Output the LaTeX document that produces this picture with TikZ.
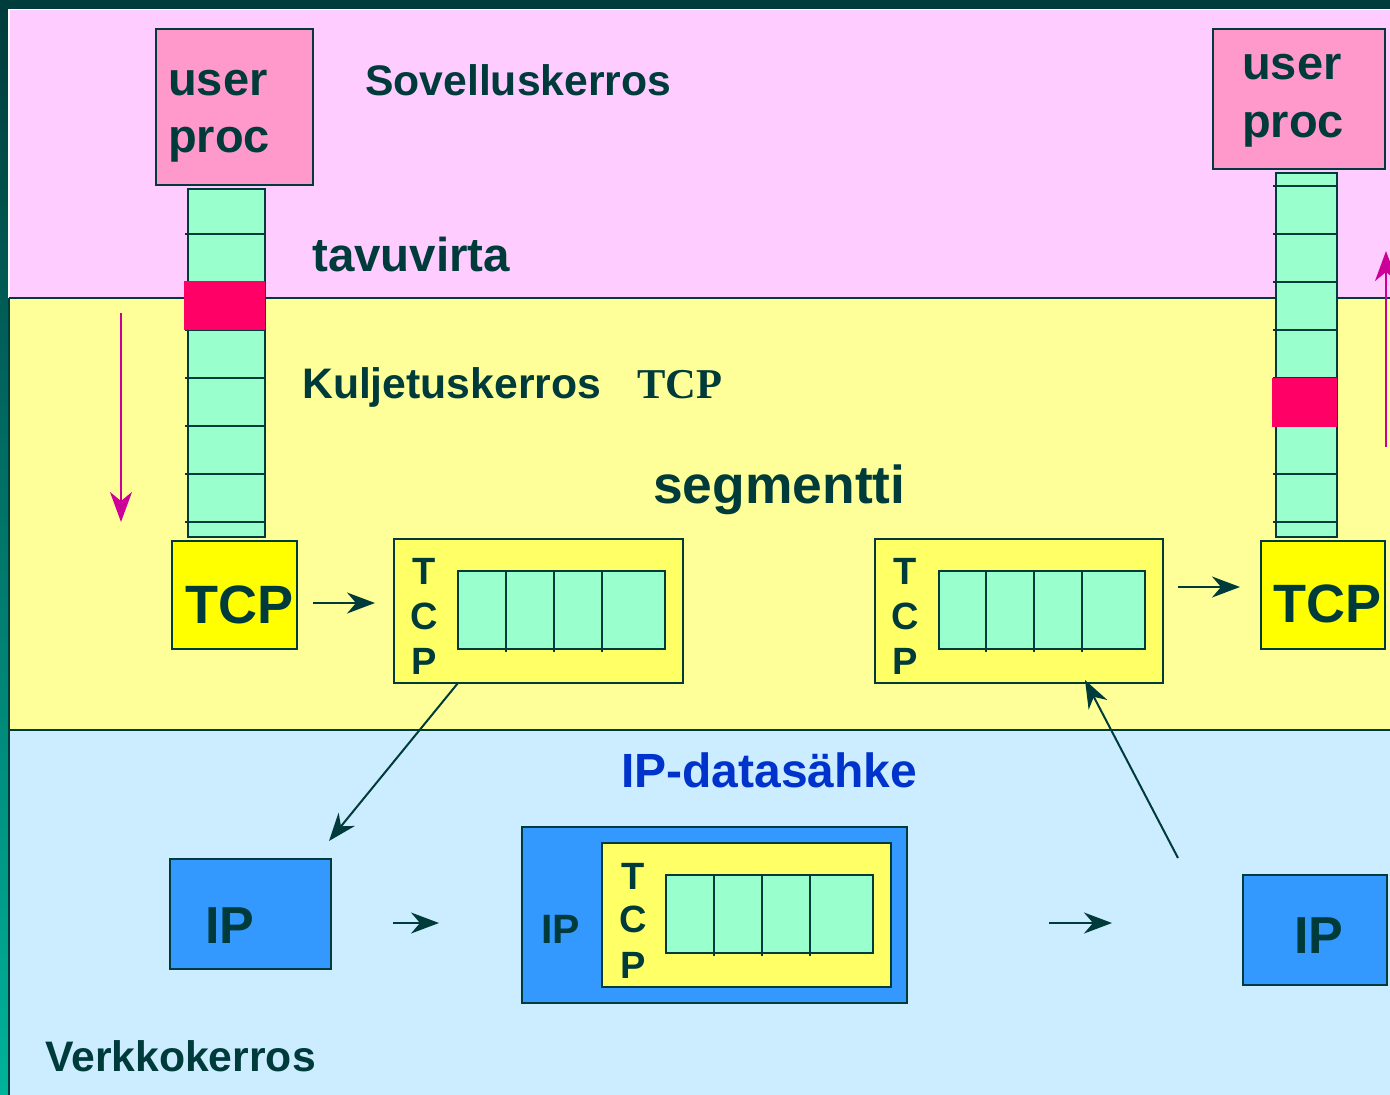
\documentclass[tikz,border=0pt]{standalone}
\usepackage{fontspec}
\setmainfont{Liberation Sans}
\newfontfamily\serifbf{Liberation Serif}
\usetikzlibrary{arrows.meta}
\definecolor{ink}{HTML}{003B3B}
\definecolor{bgpink}{HTML}{FFCCFF}
\definecolor{bgyellow}{HTML}{FFFF99}
\definecolor{bgblue}{HTML}{CCECFF}
\definecolor{pinkbox}{HTML}{FF99CC}
\definecolor{mint}{HTML}{99FFCC}
\definecolor{hot}{HTML}{FF0066}
\definecolor{tcpyellow}{HTML}{FFFF00}
\definecolor{segyellow}{HTML}{FFFF66}
\definecolor{ipblue}{HTML}{3399FF}
\definecolor{mag}{HTML}{CC0099}
\definecolor{dgblue}{HTML}{0033CC}
\definecolor{stripTop}{HTML}{003C3C}
\definecolor{stripBot}{HTML}{00B39B}
\newcommand\fsz[1]{\fontsize{#1}{#1}\selectfont}
\begin{document}
\begin{tikzpicture}[x=1pt,y=-1pt,
  box/.style={draw=ink, line width=1.5pt, rectangle, inner sep=0pt, anchor=north west},
  lbl/.style={inner sep=0pt, anchor=base west, text=ink, font=\bfseries\fsz{42.7}},
  letter/.style={inner sep=0pt, anchor=base, text=ink, font=\bfseries\fsz{38}},
  celline/.style={draw=ink, line width=1.5pt},
  darr/.style={draw=ink, line width=2pt, -{Stealth[length=28pt,width=21pt,inset=9pt]}},
  marr/.style={draw=mag, line width=2pt, -{Stealth[length=30pt,width=22pt,inset=9pt]}},
]
\useasboundingbox (0,0) rectangle (1390,1095);
% frame
\fill[stripTop] (0,0) rectangle (1390,9);
\shade[top color=stripTop, bottom color=stripBot] (0,9) rectangle (8,1095);
\fill[white] (8,9) rectangle (1390,10);
\fill[white] (8,9) rectangle (10,298);
% layers
\fill[bgpink] (10,10) rectangle (1390,298);
\fill[bgyellow] (10,298) rectangle (1390,730);
\fill[bgblue] (10,730) rectangle (1390,1095);
\draw[ink, line width=1.2pt] (9,298) -- (1390,298);
\draw[ink, line width=1.2pt] (9,730) -- (1390,730);
\draw[ink, line width=1.2pt] (9,298) -- (9,1095);

% layer labels
\node[lbl] (sov) at (365,95) {Sovelluskerros};
\node[lbl, font=\bfseries\fsz{47.5}] (tavu) at (312,271) {tavuvirta};
\node[lbl] (kul) at (302,398) {Kuljetuskerros};
\node[lbl, font=\serifbf\bfseries\fsz{42.5}] (tcpword) at (637,398) {TCP};
\node[lbl, font=\bfseries\fsz{53.4}] (segm) at (653,503) {segmentti};
\node[lbl, text=dgblue, font=\bfseries\fsz{48}] (ipd) at (621,787) {IP-datasähke};
\node[lbl] (verk) at (45,1071) {Verkkokerros};

% left user process
\node[box, fill=pinkbox, minimum width=157pt, minimum height=156pt] (upL) at (155,28) {};
\node[lbl, font=\bfseries\fsz{47}] (upLa) at (168,95) {user};
\node[lbl, font=\bfseries\fsz{47}] (upLb) at (168,152) {proc};
\node[box, fill=mint, minimum width=77pt, minimum height=348pt] (colL) at (187,188) {};
\foreach \y in {234,282,330,378,426,474,522} \draw[celline] (185,\y) -- (266,\y);
\fill[hot] (184,281) rectangle (265,330);
\draw[marr] (121,313) coordinate (mLs) -- (121,522) coordinate (mLe);
\node[box, fill=tcpyellow, minimum width=125pt, minimum height=108pt] (tcpL) at (171,540) {};
\node[lbl, font=\bfseries\fsz{54}] (tcpLt) at (185,623) {TCP};

% right user process
\node[box, fill=pinkbox, minimum width=172pt, minimum height=140pt] (upR) at (1212,28) {};
\node[lbl, font=\bfseries\fsz{47}] (upRa) at (1242,79) {user};
\node[lbl, font=\bfseries\fsz{47}] (upRb) at (1242,137) {proc};
\node[box, fill=mint, minimum width=61pt, minimum height=364pt] (colR) at (1275,172) {};
\foreach \y in {186,234,282,330,378,426,474,522} \draw[celline] (1273,\y) -- (1338,\y);
\fill[hot] (1272,378) rectangle (1337,427);
\draw[marr] (1386,447) coordinate (mRs) -- (1386,251) coordinate (mRe);
\node[box, fill=tcpyellow, minimum width=124pt, minimum height=108pt] (tcpR) at (1260,540) {};
\node[lbl, font=\bfseries\fsz{54}] (tcpRt) at (1273,622) {TCP};

% segment 1
\node[box, fill=segyellow, minimum width=289pt, minimum height=144pt] (seg1) at (393,538) {};
\node[box, fill=mint, minimum width=207pt, minimum height=78pt] (cells1) at (457,570) {};
\foreach \x in {506,554,602} \draw[celline] (\x,570) -- (\x,652);
\node[letter] (s1T) at (424,584) {T};
\node[letter] (s1C) at (424,629) {C};
\node[letter] (s1P) at (424,674) {P};

% segment 2
\node[box, fill=segyellow, minimum width=288pt, minimum height=144pt] (seg2) at (874,538) {};
\node[box, fill=mint, minimum width=206pt, minimum height=78pt] (cells2) at (938,570) {};
\foreach \x in {986,1034,1082} \draw[celline] (\x,570) -- (\x,652);
\node[letter] (s2T) at (905,584) {T};
\node[letter] (s2C) at (905,629) {C};
\node[letter] (s2P) at (905,674) {P};

% IP boxes
\node[box, fill=ipblue, minimum width=161pt, minimum height=110pt] (ipL) at (169,858) {};
\node[lbl, font=\bfseries\fsz{52}] (ipLt) at (205,943) {IP};
\node[box, fill=ipblue, minimum width=144pt, minimum height=110pt] (ipR) at (1242,874) {};
\node[lbl, font=\bfseries\fsz{52}] (ipRt) at (1294,953) {IP};

% datagram
\node[box, fill=ipblue, minimum width=385pt, minimum height=176pt] (dg) at (521,826) {};
\node[lbl, font=\bfseries\fsz{41}] (dgIP) at (541,943) {IP};
\node[box, fill=segyellow, minimum width=289pt, minimum height=144pt] (dgseg) at (601,842) {};
\node[box, fill=mint, minimum width=207pt, minimum height=78pt] (cells3) at (665,874) {};
\foreach \x in {714,762,810} \draw[celline] (\x,874) -- (\x,956);
\node[letter] (dT) at (633,889) {T};
\node[letter] (dC) at (633,932) {C};
\node[letter] (dP) at (633,978) {P};

% connectors
\coordinate (a1s) at (313,603); \coordinate (a1e) at (375,603);
\draw[darr] (a1s) -- (a1e);
\coordinate (a2s) at (1178,587); \coordinate (a2e) at (1240,587);
\draw[darr] (a2s) -- (a2e);
\coordinate (a3s) at (393,923); \coordinate (a3e) at (439,923);
\draw[darr] (a3s) -- (a3e);
\coordinate (a4s) at (1049,923); \coordinate (a4e) at (1112,923);
\draw[darr] (a4s) -- (a4e);
\coordinate (d1s) at (458,683); \coordinate (d1e) at (329,841);
\draw[darr] (d1s) -- (d1e);
\coordinate (d2s) at (1178,858); \coordinate (d2e) at (1085,680);
\draw[darr] (d2s) -- (d2e);
\end{tikzpicture}
\end{document}
